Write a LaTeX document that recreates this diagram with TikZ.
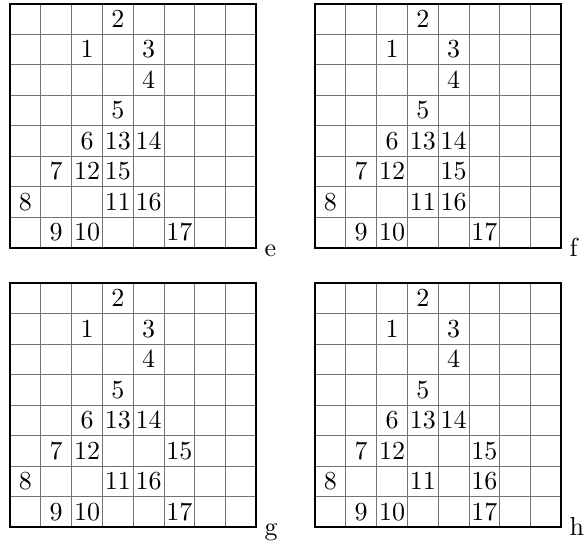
\documentclass[tikz,border=0pt]{standalone}
\font\boardfont=cmr10 at 26pt
\begin{document}
\begin{tikzpicture}[x=1pt,y=-1pt,
  innerline/.style={draw=black!55,line width=1pt},
  borderline/.style={draw=black,line width=2pt},
  num/.style={inner sep=0pt,font=\boardfont},
  lab/.style={anchor=base west,inner sep=0pt,font=\boardfont}]
\useasboundingbox (0,0) rectangle (586,544);
\newcommand\drawboard[4]{%
  \begin{scope}[shift={(#2,#3)},x=30.8pt,y=-30.5pt]
    \foreach \i in {1,...,7} {
      \draw[innerline] (\i,0) -- (\i,8);
      \draw[innerline] (0,\i) -- (8,\i);
    }
    \draw[borderline] (0,0) rectangle (8,8);
    \foreach \r/\c/\t in {#4} {
      \node[num] (#1-\t) at (\c+0.5,\r+0.5) {\t};
    }
    \coordinate (#1-corner) at (8,8);
    \node[lab] (#1-label) at ([xshift=8pt,yshift=-8.5pt]#1-corner) {#1};
  \end{scope}}
\drawboard{e}{10}{3.5}{0/3/2,1/2/1,1/4/3,2/4/4,3/3/5,4/2/6,4/3/13,4/4/14,5/1/7,5/2/12,5/3/15,6/0/8,6/3/11,6/4/16,7/1/9,7/2/10,7/5/17}
\drawboard{f}{315}{3.5}{0/3/2,1/2/1,1/4/3,2/4/4,3/3/5,4/2/6,4/3/13,4/4/14,5/1/7,5/2/12,5/4/15,6/0/8,6/3/11,6/4/16,7/1/9,7/2/10,7/5/17}
\drawboard{g}{10}{283}{0/3/2,1/2/1,1/4/3,2/4/4,3/3/5,4/2/6,4/3/13,4/4/14,5/1/7,5/2/12,5/5/15,6/0/8,6/3/11,6/4/16,7/1/9,7/2/10,7/5/17}
\drawboard{h}{315}{283}{0/3/2,1/2/1,1/4/3,2/4/4,3/3/5,4/2/6,4/3/13,4/4/14,5/1/7,5/2/12,5/5/15,6/0/8,6/3/11,6/5/16,7/1/9,7/2/10,7/5/17}
\end{tikzpicture}
\end{document}
